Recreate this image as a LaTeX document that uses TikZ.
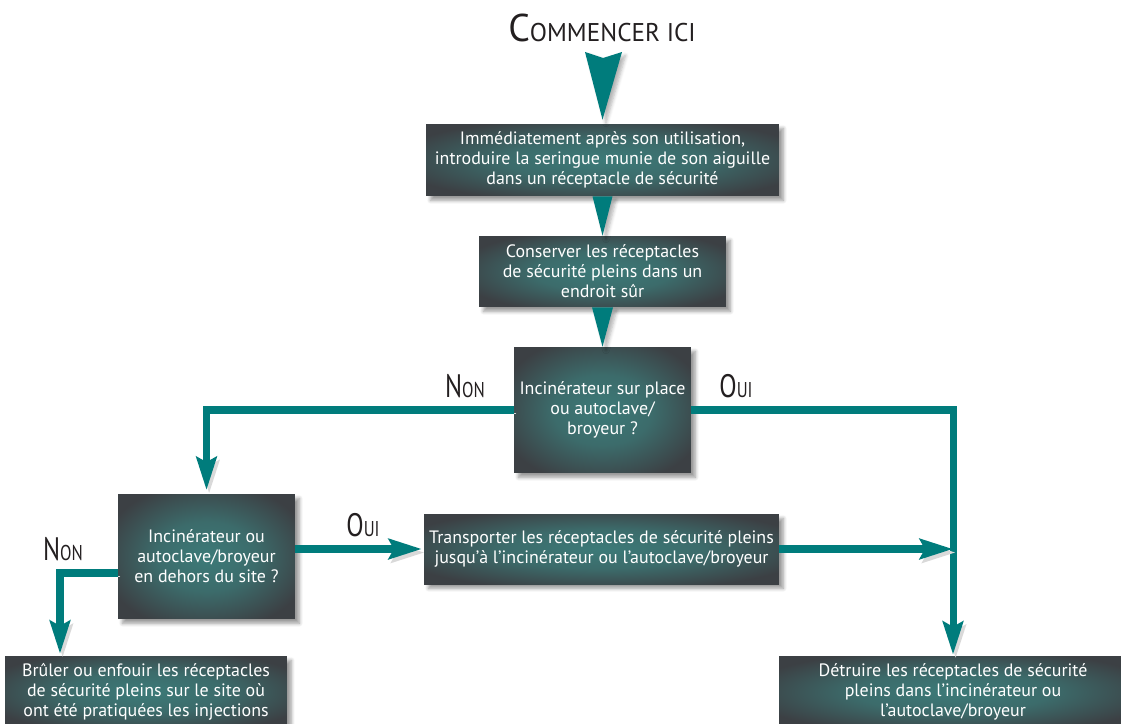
\documentclass[tikz,border=0pt]{standalone}
\usepackage{fontspec}
\setmainfont{PT Sans}
\usepackage{xcolor}
\usepackage{graphicx}
\usepackage{tikz}
\usetikzlibrary{calc, arrows.meta, positioning, shadows.blur}

\definecolor{teal0}{RGB}{0,124,124}
\definecolor{boxin}{RGB}{60,122,120}
\definecolor{boxout}{RGB}{60,64,68}
\definecolor{ink}{RGB}{35,31,32}

% soft teal glow in the middle of the boxes
\pgfdeclareradialshading{boxglow}{\pgfpoint{0bp}{0bp}}{color(0bp)=(boxin); color(14bp)=(boxin!75!boxout); color(30bp)=(boxout); color(50bp)=(boxout)}

% small caps label: big first letter, smaller rest
\newcommand{\sclab}[2]{\scalebox{0.78}[1]{\fontsize{18.5}{20}\selectfont #1\fontsize{12.2}{14}\selectfont #2}}

\begin{document}
\begin{tikzpicture}[x=0.02cm, y=-0.02cm, >=latex]
		\tikzstyle{box} = [rectangle, inner sep=0pt, shading=boxglow, text=white, align=center, font=\fontsize{10.2}{11.4}\selectfont, blur shadow={shadow xshift=2.5pt, shadow yshift=-2.5pt, shadow opacity=40, shadow blur steps=6}]
		\tikzstyle{invis} = [draw=none, text=ink, inner sep=0pt]
		\tikzstyle{conn} = [line width=4pt, draw=teal0, line join=miter, preaction={draw=black!15, transform canvas={shift={(1.5pt,-2pt)}}}]
		\tikzstyle{arrow} = [conn, -{Stealth[length=0.66cm, width=0.4cm, inset=0.1cm]}]
		\tikzstyle{tri} = [fill=teal0, blur shadow={shadow xshift=2pt, shadow yshift=-2pt, shadow opacity=30, shadow blur steps=5}]

		\useasboundingbox (0, 0) rectangle (1121, 723);

		\node[invis, anchor=base] at (602, 42) (t) {\scalebox{0.98}[1]{\fontsize{22}{24}\selectfont C\fontsize{14.6}{16}\selectfont OMMENCER ICI}};

		\node[box, minimum width=7.06cm, minimum height=1.44cm] at (602.5, 160) (b1) {Immédiatement après son utilisation,\\introduire la seringue munie de son aiguille\\dans un réceptacle de sécurité};
		\node[box, minimum width=4.94cm, minimum height=1.42cm] at (602.5, 271.5) (b2) {Conserver les réceptacles\\de sécurité pleins dans un\\endroit sûr};
		\node[box, minimum width=3.54cm, minimum height=2.52cm] at (602.5, 410) (b3) {Incinérateur sur place\\ou autoclave/\\broyeur ?};
		\node[box, minimum width=3.54cm, minimum height=2.5cm] at (206.5, 556.5) (b4) {Incinérateur ou\\autoclave/broyeur\\en dehors du site ?};
		\node[box, minimum width=7.1cm, minimum height=1.4cm] at (601.5, 549) (tr) {Transporter les réceptacles de sécurité pleins\\jusqu’à l’incinérateur ou l’autoclave/broyeur};
		\node[box, minimum width=5.64cm, minimum height=1.44cm] at (146, 692) (b5) {Brûler ou enfouir les réceptacles\\de sécurité pleins sur le site où\\ont été pratiquées les injections};
		\node[box, minimum width=6.96cm, minimum height=1.44cm] at (953, 692) (b6) {Détruire les réceptacles de sécurité\\pleins dans l’incinérateur ou\\l’autoclave/broyeur};

		\node[invis, anchor=base] at (465, 397) (n1) {\sclab{N}{ON}};
		\node[invis, anchor=base] at (736, 397) (o1) {\sclab{O}{UI}};
		\node[invis, anchor=base] at (363, 536) (o2) {\sclab{O}{UI}};
		\node[invis, anchor=base] at (63, 560) (n2) {\sclab{N}{ON}};

		\coordinate (j) at (953, 549);
		\coordinate (k) at (60, 573);

		\fill[tri] (585, 52) -- (603, 58) -- (622, 52) -- ($(b1.north)+(0,-4)$) -- cycle;
		\fill[tri] ($(b1.south)+(-10,0)$) -- ($(b1.south)+(10,0)$) -- (b2.north) -- cycle;
		\fill[tri] ($(b2.south)+(-10.5,0)$) -- ($(b2.south)+(10.5,0)$) -- (b3.north) -- cycle;

		\draw[arrow, shorten >=2pt] (b3.west) -| (b4.north);
		\draw[arrow, shorten >=0.5pt] (b3.east) -| (j) -- (j |- b6.north);
		\draw[arrow, shorten >=1pt] (b4.east |- tr.west) -- (tr.west);
		\draw[arrow] (tr.east) -- (j);
		\draw[arrow, shorten >=1pt] (b4.west |- k) -- (k) -- (k |- b5.north);
	\end{tikzpicture}
\end{document}
